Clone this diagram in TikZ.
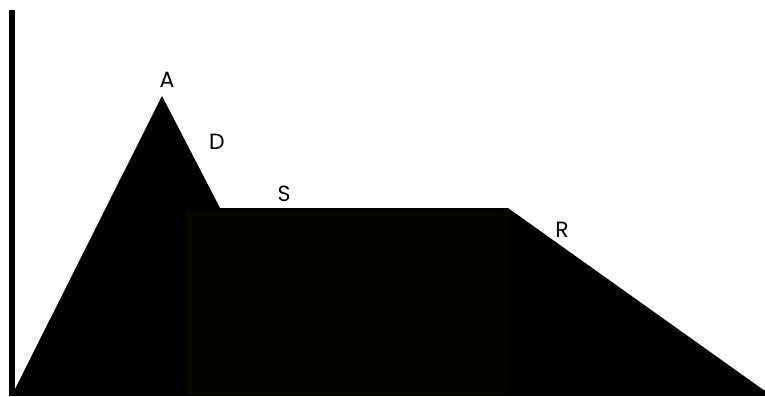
\documentclass[tikz,border=0pt]{standalone}
\usepackage{fontspec}
\setmainfont{Poppins}
\usepackage{tikz}
\usetikzlibrary{calc}
\definecolor{susfill}{RGB}{5,6,0}
\tikzset{
  ax/.style={draw=black, line width=6pt},
  env/.style={fill=black},
  sus/.style={fill=susfill},
  lbl/.style={font=\fontsize{22}{24}\selectfont, inner sep=0pt, anchor=center}
}
\begin{document}
\begin{tikzpicture}[x=1pt, y=-1pt]
  \useasboundingbox (0,0) rectangle (765,396);
  % envelope
  \coordinate (start) at (14,391);
  \coordinate (peak) at (162,96);
  \coordinate (dec) at (220,208);
  \coordinate (rel) at (508,208);
  \coordinate (stop) at (765,391);
  \fill[env] (start) -- (peak) -- (dec) -- (rel) -- (stop) -- cycle;
  % axes
  \draw[ax] (12,10) -- (12,396);
  \draw[ax] (9,393) -- (765,393);
  \fill[sus] (186,211) rectangle (508,396);
  % labels
  \node[lbl] (la) at (167,80) {A};
  \node[lbl] (ld) at (217,142) {D};
  \node[lbl] (ls) at (284,194) {S};
  \node[lbl] (lr) at (562,230) {R};
\end{tikzpicture}
\end{document}
